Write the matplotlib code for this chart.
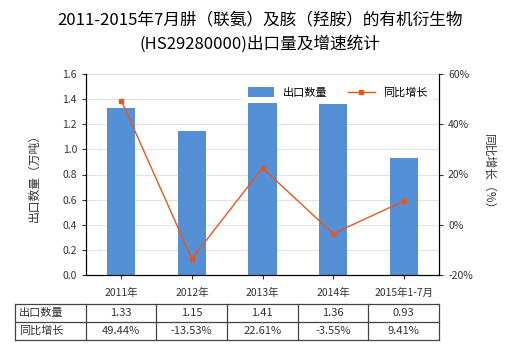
import matplotlib
matplotlib.use("Agg")
import matplotlib.pyplot as plt
import numpy as np

plt.rcParams['font.family'] = ['Noto Sans CJK SC', 'DejaVu Sans']

categories = ["2011年", "2012年", "2013年", "2014年", "2015年1-7月"]
export_qty = [1.33, 1.15, 1.41, 1.36, 0.93]
growth_pct = [49.44, -13.53, 22.61, -3.55, 9.41]
qty_labels = ["1.33", "1.15", "1.41", "1.36", "0.93"]
growth_labels = ["49.44%", "-13.53%", "22.61%", "-3.55%", "9.41%"]

BAR_COLOR = "#5590D6"
LINE_COLOR = "#E8561E"
TXT = "#333333"

fig = plt.figure(figsize=(5.2, 3.5), dpi=100)
ax = fig.add_axes([86 / 520, 1 - 275 / 350, 353 / 520, 201 / 350])
x = np.arange(len(categories))

ax.bar(x, export_qty, width=0.4, color=BAR_COLOR, label="出口数量", zorder=2)
ax.set_xlim(-0.5, len(categories) - 0.5)
ax.set_ylim(0, 1.6)
ax.set_yticks(np.arange(0, 1.61, 0.2))
ax.set_yticklabels([f"{v:.1f}" for v in np.arange(0, 1.61, 0.2)])
ax.set_xticks(x)
ax.set_xticklabels(categories)
ax.grid(axis="y", color="#e3e3e3", linewidth=0.8, zorder=0)
ax.set_axisbelow(True)
ax.tick_params(axis="both", labelsize=7.5, colors=TXT, length=3, width=0.8)
ax.tick_params(axis="x", pad=6)
ax.spines["top"].set_visible(False)
for s in ["left", "bottom", "right"]:
    ax.spines[s].set_color("black")
    ax.spines[s].set_linewidth(0.8)
ax.set_ylabel("出口数量（万吨）", fontsize=8.5, color=TXT, labelpad=16)

ax2 = ax.twinx()
ax2.plot(x, growth_pct, color=LINE_COLOR, linewidth=1, marker="s",
         markersize=3.5, label="同比增长", zorder=3)
ax2.set_ylim(-20, 60)
ax2.set_yticks(range(-20, 61, 20))
ax2.set_yticklabels([f"{v}%" for v in range(-20, 61, 20)])
ax2.tick_params(axis="y", labelsize=7.5, colors=TXT, length=3, width=0.8)
ax2.spines["top"].set_visible(False)
ax2.spines["right"].set_linewidth(0.8)
ax2.set_ylabel("同比增长（%）", fontsize=8.5, color=TXT, rotation=270,
               labelpad=16)

h1, l1 = ax.get_legend_handles_labels()
h2, l2 = ax2.get_legend_handles_labels()
leg = ax2.legend(h1 + h2, l1 + l2, loc="upper right",
                 bbox_to_anchor=(1.0, 0.99), ncol=2, fontsize=8,
                 frameon=True, fancybox=False, handlelength=2.4,
                 handleheight=1.0, columnspacing=1.8, borderpad=0.5)
leg.get_frame().set_edgecolor("none")
leg.get_frame().set_facecolor("white")
leg.get_frame().set_alpha(1)

fig.text(0.5, 1 - 20 / 350,
         "2011-2015年7月肼（联氨）及胲（羟胺）的有机衍生物",
         ha="center", va="center", fontsize=12, color="black")
fig.text(0.5, 1 - 44 / 350, "(HS29280000)出口量及增速统计",
         ha="center", va="center", fontsize=12, color="black")

# data table under the chart
tab = fig.add_axes([15 / 520, 1 - 340 / 350, 424 / 520, 36 / 350])
tab.set_xlim(-1.5, len(categories) - 0.5)
tab.set_ylim(0, 2)
tab.axis("off")
lc = "#444444"
for yy in [0, 1, 2]:
    tab.plot([-1.5, len(categories) - 0.5], [yy, yy], color=lc,
             linewidth=0.9, clip_on=False)
for xx in np.arange(-1.5, len(categories), 1.0):
    tab.plot([xx, xx], [0, 2], color=lc, linewidth=0.9, clip_on=False)
tab.text(-1.45, 1.5, "出口数量", ha="left", va="center", fontsize=8,
         color=TXT)
tab.text(-1.45, 0.5, "同比增长", ha="left", va="center", fontsize=8,
         color=TXT)
for i in range(len(categories)):
    tab.text(i, 1.5, qty_labels[i], ha="center", va="center", fontsize=8,
             color=TXT)
    tab.text(i, 0.5, growth_labels[i], ha="center", va="center",
             fontsize=8, color=TXT)

fig.savefig("out.png", dpi=100)
